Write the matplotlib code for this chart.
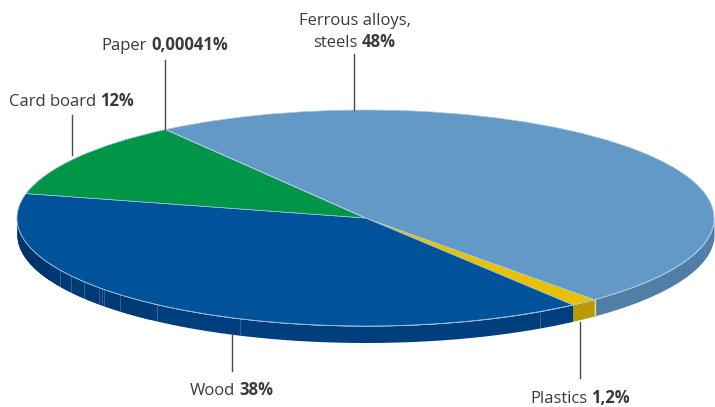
import matplotlib
matplotlib.use("Agg")
import matplotlib.pyplot as plt
import numpy as np

plt.rcParams["font.family"] = ["Open Sans", "DejaVu Sans"]

# shares, clockwise from the top left
names = ["Ferrous alloys,\nsteels", "Plastics", "Wood", "Card board", "Paper"]
shares = [48.0, 1.24, 38.49, 11.56, 0.00041]
share_labels = ["48%", "1,2%", "38%", "12%", "0,00041%"]

top_colors = ["#6299c6", "#e6c200", "#00529b", "#009648", "#009648"]
wall_colors = ["#4f7ea6", "#b89b00", "#003f7e", "#00703a", "#00703a"]

W, H = 715, 407
cx, cy = 365.5, 218
rx, ry = 348.5, 108
depth = 16.5 / ry

fig = plt.figure(figsize=(W / 100, H / 100), dpi=100)
ax = fig.add_axes([0, 0, 1, 1])

wedges, _ = ax.pie(shares, startangle=125, counterclock=False, radius=1,
                   colors=top_colors, wedgeprops=dict(edgecolor="#a9c6e0", linewidth=0.5, zorder=3))
ax.set_aspect("auto")
ax.set_xlim(-cx / rx, (W - cx) / rx)
ax.set_ylim((cy - H) / ry, cy / ry)
ax.axis("off")

# side wall of the disc, only the front half shows
for w, c in zip(wedges, wall_colors):
    t = np.radians(np.linspace(w.theta1, w.theta2, 300))
    t = t[np.sin(t) <= 0]
    if len(t) == 0:
        continue
    x = np.cos(t)
    y = np.sin(t)
    ax.fill_between(x, y - depth, y, color=c, linewidth=0, zorder=1)
    ax.plot(x, y, color="#9dbbd8", lw=0.7, zorder=2)

# darker left end of the wood wall
t = np.radians(np.linspace(180, 232, 100))
ax.fill_between(np.cos(t), np.sin(t) - depth, np.sin(t), color="#003a75", linewidth=0, zorder=1.5)
t = np.radians(np.linspace(180, 205, 60))
ax.fill_between(np.cos(t), np.sin(t) - depth, np.sin(t), color="#00356c", linewidth=0, zorder=1.6)

# thin seams in the wall
seams = [60, 71, 84, 99, 102, 104, 120, 157, 240, 540, 705]
for sx in seams:
    x = (sx - cx) / rx
    y = -np.sqrt(1 - x ** 2)
    ax.plot([x, x], [y, y - depth], color="#7f9fc4", lw=0.5, alpha=0.55, zorder=2)
x = (594.5 - cx) / rx
ax.plot([x, x], [-np.sqrt(1 - x ** 2), -np.sqrt(1 - x ** 2) - depth], color="#e6d67a", lw=1, zorder=2)

# leader lines, pixel coordinates from here on
def px(x, y):
    return x / W, 1 - y / H

leaders = [(72, 115, 155), (164.5, 60, 129), (354, 54, 110), (231.5, 333, 371), (579.5, 322, 378)]
for lx, y0, y1 in leaders:
    fig.add_artist(plt.Line2D(*zip(px(lx, y0), px(lx, y1)), color="#4a4a4a", lw=1))

FS = 12

def label(x, y, name, value):
    # regular name then bold value, centred on x
    t1 = fig.text(*px(x, y), name, fontsize=FS, color="#3a3a3a", va="baseline", ha="left")
    t2 = fig.text(*px(x, y), value, fontsize=FS, color="#3a3a3a", va="baseline", ha="left", fontweight="bold")
    r = fig.canvas.get_renderer()
    w1 = t1.get_window_extent(r).width + 4.5
    w2 = t2.get_window_extent(r).width
    left = x - (w1 + w2) / 2
    t1.set_position(px(left, y))
    t2.set_position(px(left + w1, y))

label(71.5, 106, "Card board", "12%")
label(165, 50, "Paper", "0,00041%")
label(232, 395, "Wood", "38%")
label(580, 403, "Plastics", "1,2%")
fig.text(*px(354.5, 25), "Ferrous alloys,", fontsize=FS, color="#3a3a3a", ha="center", va="baseline")
label(354.5, 47, "steels", "48%")

fig.savefig("out.png", dpi=100)
